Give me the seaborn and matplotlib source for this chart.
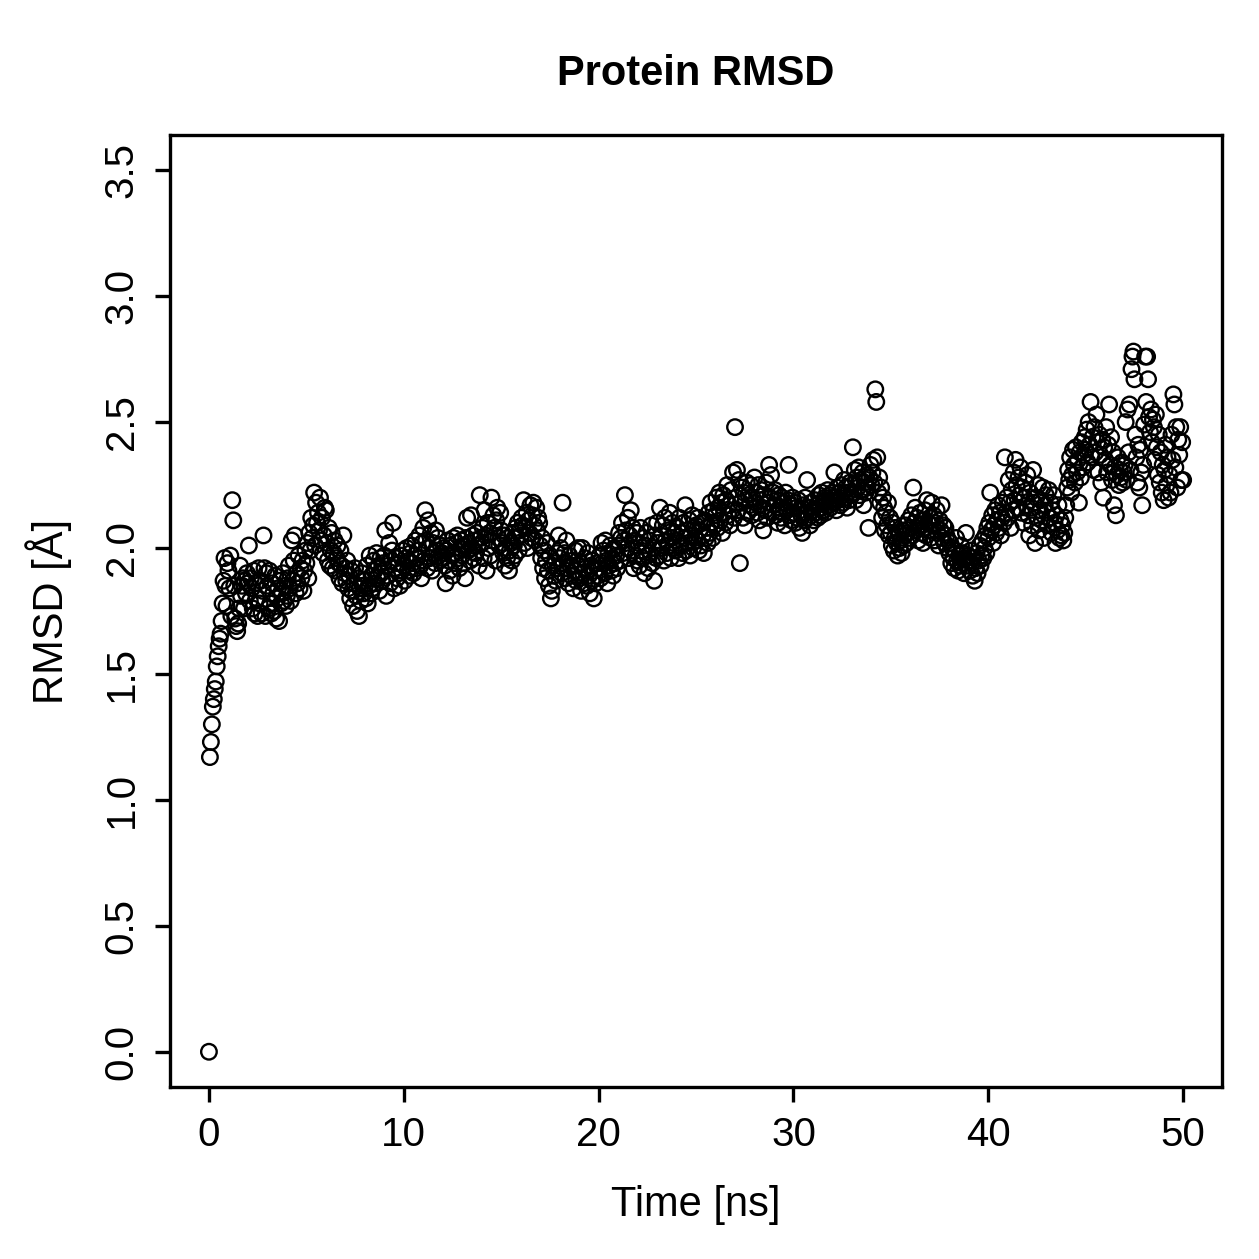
import numpy as np
import pandas as pd
import matplotlib
matplotlib.use("Agg")
import matplotlib.pyplot as plt
import seaborn as sns

# Protein RMSD over a 50 ns run, one frame every 0.05 ns
rmsd_rows = [
    [0.00, 1.17, 1.23, 1.30, 1.37, 1.40, 1.44, 1.47, 1.53, 1.57, 1.61, 1.64, 1.66, 1.71, 1.78, 1.87, 1.96, 1.85, 1.77, 1.94],
    [1.91, 1.84, 1.97, 1.73, 2.19, 2.11, 1.85, 1.72, 1.69, 1.67, 1.70, 1.76, 1.93, 1.81, 1.85, 1.88, 1.76, 1.87, 1.82, 1.90],
    [1.86, 2.01, 1.79, 1.88, 1.84, 1.76, 1.91, 1.74, 1.86, 1.80, 1.73, 1.92, 1.78, 1.87, 1.74, 1.83, 2.05, 1.92, 1.73, 1.90],
    [1.85, 1.76, 1.91, 1.78, 1.74, 1.86, 1.82, 1.75, 1.89, 1.72, 1.80, 1.84, 1.71, 1.87, 1.78, 1.82, 1.90, 1.79, 1.85, 1.77],
    [1.81, 1.88, 1.93, 1.84, 1.79, 2.03, 1.87, 1.95, 2.05, 1.82, 1.90, 1.86, 1.97, 1.84, 1.92, 1.88, 1.95, 1.83, 1.91, 1.99],
    [1.94, 2.02, 1.88, 2.06, 1.99, 2.12, 2.04, 2.09, 2.22, 2.01, 2.18, 2.10, 2.14, 2.07, 2.20, 2.03, 2.12, 1.98, 2.05, 2.16],
    [2.15, 2.02, 1.95, 2.08, 1.93, 1.99, 2.06, 1.92, 1.98, 2.03, 1.91, 1.96, 2.01, 1.94, 1.88, 1.99, 1.93, 1.86, 2.05, 1.90],
    [1.92, 1.87, 1.95, 1.84, 1.89, 1.80, 1.91, 1.83, 1.77, 1.86, 1.92, 1.81, 1.75, 1.88, 1.73, 1.84, 1.79, 1.90, 1.85, 1.82],
    [1.87, 1.80, 1.93, 1.78, 1.85, 1.97, 1.82, 1.89, 1.84, 1.95, 1.91, 1.86, 1.98, 1.88, 1.93, 1.83, 1.96, 1.90, 1.87, 1.94],
    [1.97, 2.07, 1.81, 1.89, 1.93, 2.02, 1.86, 1.95, 1.99, 2.10, 1.84, 1.92, 1.96, 1.88, 1.94, 1.90, 1.85, 1.97, 1.91, 1.99],
    [1.93, 1.87, 1.96, 2.00, 1.91, 1.95, 1.89, 1.98, 2.01, 1.94, 1.90, 1.97, 2.03, 1.92, 1.96, 1.99, 2.05, 1.93, 1.88, 2.02],
    [2.08, 1.95, 2.15, 2.03, 1.92, 2.11, 2.00, 1.96, 2.06, 1.91, 2.02, 1.98, 1.94, 2.07, 1.99, 2.04, 1.97, 1.95, 2.01, 1.98],
    [1.96, 2.00, 1.93, 1.86, 1.99, 2.03, 1.95, 1.91, 2.01, 1.97, 1.89, 2.04, 1.98, 1.94, 2.02, 2.05, 1.96, 1.92, 2.00, 2.03],
    [1.97, 2.01, 1.94, 1.88, 2.04, 2.12, 1.99, 2.02, 1.95, 2.13, 2.00, 2.05, 1.96, 2.03, 1.98, 2.06, 2.01, 1.93, 2.21, 2.04],
    [2.02, 2.08, 1.96, 2.15, 2.05, 1.91, 2.10, 2.00, 2.06, 1.97, 2.20, 2.03, 2.13, 2.08, 1.95, 2.11, 2.16, 2.04, 2.01, 2.14],
    [2.07, 2.02, 1.98, 2.05, 1.93, 2.00, 1.96, 2.04, 1.91, 1.99, 2.02, 1.95, 2.06, 2.01, 1.97, 2.08, 2.04, 2.10, 1.99, 2.07],
    [2.05, 2.12, 2.09, 2.19, 2.02, 2.08, 2.14, 2.00, 2.11, 2.06, 2.17, 2.04, 2.13, 2.18, 2.09, 2.03, 2.16, 2.07, 2.12, 2.10],
    [2.01, 1.96, 2.04, 1.92, 1.99, 1.88, 1.95, 2.02, 1.91, 1.85, 1.97, 1.80, 1.83, 1.93, 1.89, 1.94, 1.87, 1.98, 1.92, 2.05],
    [1.96, 2.00, 1.90, 2.18, 1.94, 1.98, 1.88, 2.03, 1.92, 1.86, 1.97, 1.93, 1.89, 1.95, 1.84, 1.91, 1.99, 1.87, 1.93, 2.00],
    [1.88, 1.94, 1.83, 2.00, 1.90, 1.86, 1.96, 1.92, 1.85, 1.98, 1.89, 1.82, 1.93, 1.87, 1.95, 1.80, 1.91, 1.86, 1.94, 1.89],
    [1.92, 1.97, 1.88, 2.02, 1.94, 1.99, 1.90, 2.03, 1.95, 1.86, 1.98, 1.93, 2.01, 1.91, 1.96, 1.89, 2.00, 1.94, 1.97, 1.92],
    [2.01, 2.06, 1.95, 2.04, 2.10, 1.98, 2.03, 2.21, 2.07, 2.00, 2.12, 1.96, 2.05, 2.15, 1.99, 2.08, 1.92, 2.03, 1.97, 2.06],
    [1.95, 2.02, 1.93, 2.08, 1.99, 1.96, 2.04, 1.90, 2.01, 2.06, 1.97, 1.92, 2.03, 1.98, 2.09, 1.94, 2.00, 1.87, 2.05, 1.96],
    [2.10, 2.02, 1.97, 2.16, 2.05, 2.00, 2.09, 1.95, 2.12, 2.03, 1.98, 2.07, 2.01, 2.14, 1.96, 2.04, 2.10, 2.00, 2.06, 1.99],
    [2.03, 2.08, 1.96, 2.12, 2.01, 2.06, 1.98, 2.10, 2.04, 2.17, 1.99, 2.07, 2.02, 2.11, 1.97, 2.05, 2.13, 2.00, 2.08, 2.04],
    [2.09, 2.03, 2.12, 1.99, 2.07, 2.01, 2.10, 2.05, 1.98, 2.11, 2.04, 2.08, 2.02, 2.14, 2.06, 2.18, 2.10, 2.04, 2.15, 2.09],
    [2.13, 2.20, 2.08, 2.16, 2.22, 2.11, 2.18, 2.06, 2.21, 2.14, 2.10, 2.19, 2.25, 2.13, 2.17, 2.09, 2.23, 2.15, 2.30, 2.12],
    [2.48, 2.20, 2.31, 2.15, 2.27, 1.94, 2.18, 2.24, 2.12, 2.22, 2.09, 2.19, 2.26, 2.14, 2.21, 2.17, 2.25, 2.13, 2.20, 2.16],
    [2.28, 2.18, 2.22, 2.14, 2.25, 2.11, 2.19, 2.23, 2.16, 2.07, 2.21, 2.15, 2.26, 2.12, 2.18, 2.33, 2.20, 2.29, 2.14, 2.22],
    [2.17, 2.23, 2.13, 2.19, 2.10, 2.21, 2.16, 2.12, 2.20, 2.14, 2.18, 2.09, 2.22, 2.15, 2.19, 2.33, 2.13, 2.17, 2.11, 2.20],
    [2.14, 2.18, 2.10, 2.16, 2.12, 2.19, 2.08, 2.15, 2.13, 2.06, 2.17, 2.11, 2.20, 2.14, 2.27, 2.12, 2.16, 2.09, 2.18, 2.13],
    [2.15, 2.11, 2.19, 2.14, 2.17, 2.12, 2.21, 2.16, 2.13, 2.22, 2.18, 2.15, 2.20, 2.14, 2.19, 2.23, 2.17, 2.21, 2.16, 2.19],
    [2.22, 2.18, 2.30, 2.20, 2.15, 2.24, 2.19, 2.22, 2.17, 2.25, 2.21, 2.18, 2.27, 2.20, 2.24, 2.16, 2.22, 2.19, 2.26, 2.21],
    [2.25, 2.40, 2.22, 2.31, 2.19, 2.28, 2.24, 2.32, 2.21, 2.27, 2.23, 2.30, 2.17, 2.26, 2.22, 2.29, 2.24, 2.08, 2.28, 2.33],
    [2.25, 2.30, 2.35, 2.26, 2.63, 2.58, 2.36, 2.22, 2.28, 2.18, 2.24, 2.12, 2.20, 2.16, 2.07, 2.14, 2.09, 2.18, 2.05, 2.12],
    [2.06, 2.01, 2.10, 1.99, 2.04, 2.08, 2.02, 1.97, 2.06, 2.00, 2.03, 1.98, 2.07, 2.01, 2.05, 2.09, 2.02, 2.06, 2.11, 2.04],
    [2.08, 2.13, 2.05, 2.24, 2.10, 2.16, 2.07, 2.12, 2.03, 2.09, 2.14, 2.06, 2.11, 2.02, 2.08, 2.15, 2.05, 2.19, 2.10, 2.07],
    [2.12, 2.04, 2.18, 2.09, 2.13, 2.03, 2.10, 2.15, 2.06, 2.01, 2.11, 2.07, 2.17, 2.04, 2.09, 2.02, 2.08, 2.05, 2.00, 2.03],
    [1.98, 2.02, 1.94, 2.00, 1.96, 1.92, 1.99, 2.04, 1.95, 1.91, 1.97, 1.93, 2.01, 1.94, 1.98, 1.90, 1.96, 2.06, 1.93, 1.97],
    [1.95, 1.91, 1.99, 1.94, 1.89, 1.96, 1.87, 1.92, 1.98, 1.90, 1.95, 2.01, 1.93, 1.97, 2.03, 1.96, 2.00, 2.05, 1.98, 2.08],
    [2.04, 2.10, 2.22, 2.07, 2.13, 2.02, 2.09, 2.15, 2.06, 2.11, 2.17, 2.08, 2.14, 2.05, 2.12, 2.18, 2.10, 2.36, 2.14, 2.20],
    [2.12, 2.27, 2.18, 2.08, 2.23, 2.15, 2.30, 2.19, 2.35, 2.25, 2.16, 2.28, 2.21, 2.32, 2.14, 2.24, 2.10, 2.20, 2.26, 2.17],
    [2.29, 2.13, 2.05, 2.22, 2.16, 2.09, 2.31, 2.18, 2.02, 2.20, 2.12, 2.25, 2.07, 2.15, 2.19, 2.11, 2.24, 2.04, 2.17, 2.21],
    [2.14, 2.09, 2.23, 2.12, 2.18, 2.06, 2.15, 2.21, 2.10, 2.02, 2.13, 2.07, 2.17, 2.04, 2.11, 2.05, 2.09, 2.03, 2.06, 2.12],
    [2.17, 2.24, 2.31, 2.27, 2.36, 2.22, 2.29, 2.39, 2.33, 2.26, 2.40, 2.30, 2.35, 2.18, 2.38, 2.28, 2.42, 2.32, 2.37, 2.44],
    [2.39, 2.47, 2.34, 2.50, 2.41, 2.58, 2.36, 2.44, 2.31, 2.48, 2.38, 2.53, 2.42, 2.30, 2.45, 2.37, 2.26, 2.43, 2.20, 2.40],
    [2.35, 2.48, 2.30, 2.41, 2.57, 2.33, 2.44, 2.27, 2.38, 2.17, 2.32, 2.13, 2.29, 2.36, 2.25, 2.31, 2.28, 2.34, 2.26, 2.30],
    [2.33, 2.50, 2.27, 2.55, 2.38, 2.57, 2.31, 2.71, 2.76, 2.78, 2.67, 2.45, 2.36, 2.26, 2.41, 2.24, 2.39, 2.30, 2.17, 2.33],
    [2.49, 2.76, 2.58, 2.76, 2.67, 2.52, 2.46, 2.55, 2.42, 2.51, 2.48, 2.35, 2.53, 2.40, 2.29, 2.45, 2.26, 2.38, 2.22, 2.33],
    [2.19, 2.31, 2.41, 2.25, 2.36, 2.20, 2.29, 2.22, 2.45, 2.35, 2.61, 2.57, 2.32, 2.48, 2.24, 2.43, 2.37, 2.48, 2.27, 2.42],
    [2.27],
]
frame_step_ns = 0.05

rmsd = [v for row in rmsd_rows for v in row]
time_ns = np.round(np.arange(len(rmsd)) * frame_step_ns, 2)
df = pd.DataFrame({"time": time_ns, "rmsd": rmsd})

x_ticks = [0, 10, 20, 30, 40, 50]
y_ticks = [0.0, 0.5, 1.0, 1.5, 2.0, 2.5, 3.0, 3.5]

sns.set_theme(style="ticks")
plt.rcParams["font.family"] = ["Liberation Sans", "DejaVu Sans"]
plt.rcParams["text.color"] = "black"
plt.rcParams["axes.labelcolor"] = "black"

fig = plt.figure(figsize=(12.59, 12.59), dpi=100)
ax = fig.add_axes([0.135, 0.1366, 0.8357, 0.7562])

sns.scatterplot(data=df, x="time", y="rmsd", ax=ax, marker="o", s=125,
                facecolors="none", edgecolor="black", linewidth=1.7, legend=False)

ax.set_xlim(-2, 52)
ax.set_ylim(-0.14, 3.64)
ax.set_xticks(x_ticks)
ax.set_xticklabels([str(t) for t in x_ticks])
ax.set_yticks(y_ticks)
ax.set_yticklabels([f"{t:.1f}" for t in y_ticks], rotation=90, va="center")

for sp in ax.spines.values():
    sp.set_visible(True)
    sp.set_linewidth(2.4)
    sp.set_color("black")
ax.tick_params(axis="both", direction="out", length=11, width=2.4,
               labelsize=29, colors="black", pad=10)

ax.set_xlabel("Time [ns]", fontsize=30, labelpad=22, color="black")
ax.set_ylabel("RMSD [Å]", fontsize=30, labelpad=22, color="black")
ax.set_title("Protein RMSD", fontsize=30, fontweight="bold", pad=36, color="black")

fig.savefig("out.png", dpi=100, facecolor="white")
